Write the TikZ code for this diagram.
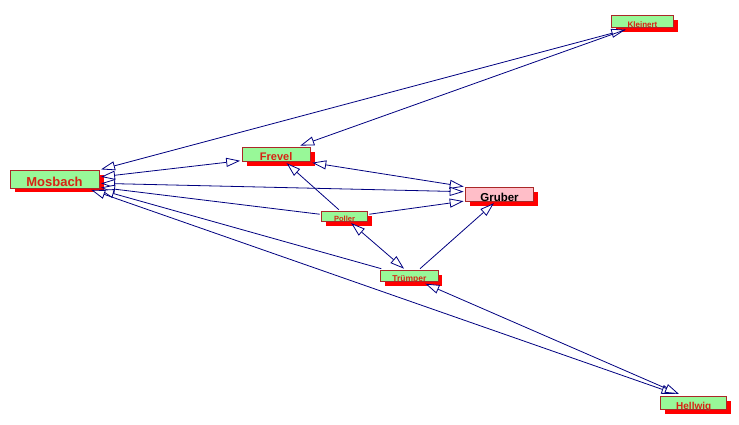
\documentclass[tikz,border=0pt]{standalone}
\usepackage{fontspec}
\setmainfont{Liberation Sans}
\usetikzlibrary{arrows.meta,shadows}
\definecolor{edgeblue}{RGB}{0,0,128}
\definecolor{boxgreen}{RGB}{152,248,152}
\definecolor{boxpink}{RGB}{255,190,200}
\definecolor{boxborder}{RGB}{170,40,40}
\definecolor{shadowred}{RGB}{255,0,0}
\definecolor{namered}{RGB}{215,35,20}

\begin{document}
\begin{tikzpicture}[x=1pt,y=-1pt,
		>={Triangle[length=14pt,width=9pt,fill=white]},
		person/.style={rectangle, draw=boxborder, fill=boxgreen, line width=0.6pt, inner sep=0pt, outer sep=2pt, text=namered, drop shadow={shadow xshift=4.5pt, shadow yshift=-4.5pt, fill=shadowred, opacity=1}},
		link/.style={draw=edgeblue, line width=0.8pt}]
		\useasboundingbox (0,0) rectangle (739,425);

		\node[person, minimum width=89pt, minimum height=17pt, text height=15.3pt, text depth=1.7pt, font=\fontsize{13}{15}\selectfont\bfseries] (mosbach) at (54.5,179.3) {Mosbach};
		\node[person, minimum width=68pt, minimum height=13.5pt, text height=13pt, text depth=0.5pt, font=\fontsize{11}{13}\selectfont\bfseries] (frevel) at (276.2,154.4) {Frevel};
		\node[person, fill=boxpink, text=black, minimum width=67.6pt, minimum height=14pt, text height=14pt, text depth=0pt, font=\fontsize{11.5}{13}\selectfont\bfseries] (gruber) at (499.5,194.2) {Gruber};
		\node[person, minimum width=45.6pt, minimum height=9.3pt, text height=9.3pt, text depth=0pt, font=\fontsize{7.5}{9}\selectfont\bfseries] (poller) at (344.5,216.4) {Poller};
		\node[person, minimum width=57.3pt, minimum height=11pt, text height=11pt, text depth=0pt, font=\fontsize{8.5}{10}\selectfont\bfseries] (truemper) at (409.3,276.2) {Trümper};
		\node[person, minimum width=61.6pt, minimum height=12pt, text height=12pt, text depth=0pt, font=\fontsize{8}{10}\selectfont\bfseries] (kleinert) at (642.5,21.7) {Kleinert};
		\node[person, minimum width=66pt, minimum height=13pt, text height=13pt, text depth=0pt, font=\fontsize{10}{12}\selectfont\bfseries] (hellwig) at (693.7,402.5) {Hellwig};

		\draw[link,<->] (kleinert.205) -- (mosbach.12);
		\draw[link,->] (kleinert.205) -- (frevel.20);
		\draw[link,<->] (frevel.190) -- (mosbach.3);
		\draw[link,<->] (frevel.-13) -- (gruber.168);
		\draw[link,<->] (gruber.176) -- (mosbach.-5);
		\draw[link,->] (poller.130) -- (frevel.-40);
		\draw[link,->] (poller.175) -- (mosbach.-10);
		\draw[link,->] (poller.5) -- (gruber.191);
		\draw[link,<->] (poller.-45) -- (truemper.125);
		\draw[link,->] (truemper.35) -- (gruber.238);
		\draw[link,->] (truemper.165) -- (mosbach.-13);
		\draw[link,<->] (hellwig.155) -- (mosbach.-16);
		\draw[link,<->] (hellwig.150) -- (truemper.-25);
\end{tikzpicture}
\end{document}
